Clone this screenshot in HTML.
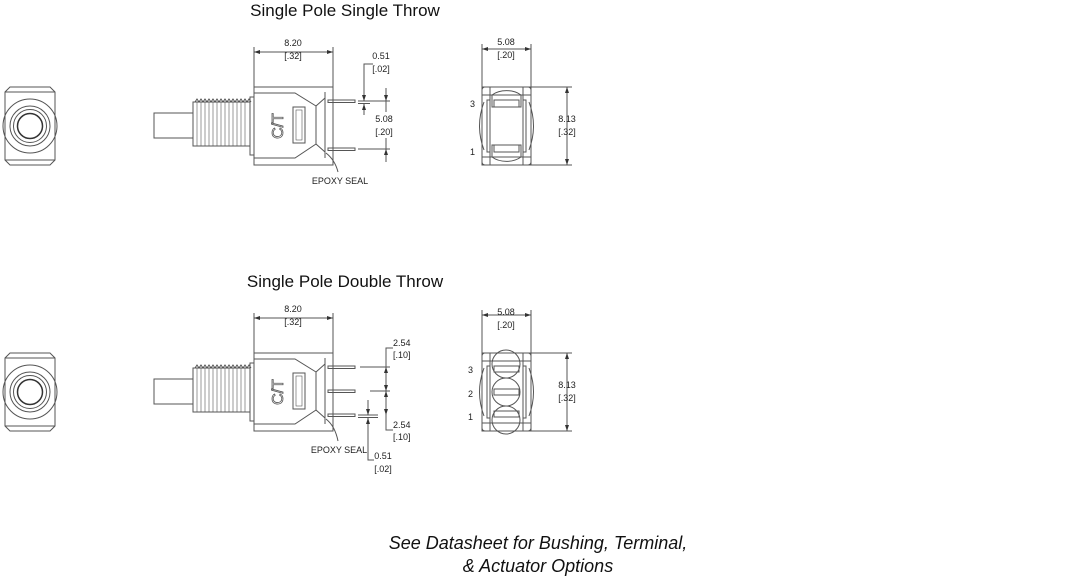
<!DOCTYPE html>
<html><head><style>
html,body{margin:0;padding:0;background:#fff;}
svg{display:block;font-family:"Liberation Sans",sans-serif;}
.t{font-size:9px;fill:#222;font-family:"Liberation Sans",Arial,sans-serif;}
</style></head><body>
<svg width="1080" height="578" viewBox="0 0 1080 578" xmlns="http://www.w3.org/2000/svg">
<defs>
<marker id="ar" markerWidth="6" markerHeight="6" refX="6" refY="3" orient="auto-start-reverse" markerUnits="userSpaceOnUse"><path d="M0,1 L6,3 L0,5 z" fill="#333"/></marker>
<g id="front" fill="none" stroke="#555" stroke-width="1">
  <path d="M10,87 H50 L55,92 V160 L50,165 H10 L5,160 V92 Z"/>
  <line x1="5" y1="92" x2="55" y2="92"/><line x1="5" y1="160" x2="55" y2="160"/>
  <circle cx="30" cy="126" r="27"/>
  <circle cx="30" cy="126" r="20"/>
  <circle cx="30" cy="126" r="16.5"/>
  <circle cx="30" cy="126" r="12.5" stroke="#333" stroke-width="1.5"/>
</g>
<g id="side" fill="none" stroke="#555" stroke-width="1">
  <rect x="154" y="113" width="39" height="25"/>
  <rect x="193" y="102" width="57" height="44"/>
  <path d="M195,102 l2,-3 l2,3 l2,-3 l2,3 l2,-3 l2,3 l2,-3 l2,3 l2,-3 l2,3 l2,-3 l2,3 l2,-3 l2,3 l2,-3 l2,3 l2,-3 l2,3 l2,-3 l2,3 l2,-3 l2,3 l2,-3 l2,3 l2,-3 l2,3 l2,-3 l2,3"/>
  <path d="M197,102 V146 M201,102 V146 M205,102 V146 M209,102 V146 M213,102 V146 M217,102 V146 M221,102 V146 M225,102 V146 M229,102 V146 M233,102 V146 M237,102 V146 M241,102 V146 M245,102 V146" stroke-width="0.6"/>
  <rect x="250" y="97" width="4" height="58"/>
  <rect x="254" y="87" width="79" height="78"/>
  <path d="M254,93 H295 L316,106 V144 L295,158 H254"/>
  <path d="M316,106 L325,98 M316,144 L325,152"/>
  <path d="M325,92 V158"/>
  <rect x="293" y="107" width="12" height="36"/>
  <rect x="296" y="110" width="6" height="30" stroke-width="0.6"/>
  <text x="0" y="0" transform="translate(279,126) rotate(-90)" text-anchor="middle" dominant-baseline="middle" font-size="16" fill="none" stroke="#555" stroke-width="0.8" font-family="Liberation Sans">C/T</text>
  <line x1="254" y1="47" x2="254" y2="87"/><line x1="333" y1="47" x2="333" y2="87"/>
  <line x1="254" y1="52" x2="333" y2="52" marker-start="url(#ar)" marker-end="url(#ar)"/>
</g>
<g id="bottom" fill="none" stroke="#555" stroke-width="1">
  <rect x="482" y="87" width="49" height="78"/>
  <rect x="482" y="87" width="49" height="78" rx="3"/>
  <path d="M482,95 H531 M482,157 H531 M490,87 V165 M523,87 V165"/>
  <rect x="487" y="100" width="3" height="52"/>
  <rect x="523" y="100" width="3" height="52"/>
  <path d="M484,102 Q475,126 484,150 M529,102 Q538,126 529,150"/>
  <line x1="482" y1="44" x2="482" y2="87"/><line x1="531" y1="44" x2="531" y2="87"/>
  <line x1="482" y1="49" x2="531" y2="49" marker-start="url(#ar)" marker-end="url(#ar)"/>
  <line x1="531" y1="87" x2="572" y2="87"/><line x1="531" y1="165" x2="572" y2="165"/>
  <line x1="567" y1="87" x2="567" y2="165" marker-start="url(#ar)" marker-end="url(#ar)"/>
</g>
</defs>

<!-- SPST -->
<text x="345" y="16" text-anchor="middle" font-size="17" fill="#111" font-family="Liberation Sans">Single Pole Single Throw</text>
<use href="#front"/>
<use href="#side"/>
<text class="t" x="293" y="46" text-anchor="middle">8.20</text>
<text class="t" x="293" y="59" text-anchor="middle">[.32]</text>
<g fill="none" stroke="#555" stroke-width="1">
  <rect x="328" y="100" width="27" height="2.5"/>
  <rect x="328" y="148" width="27" height="2.5"/>
  <line x1="358" y1="101" x2="390" y2="101"/><line x1="358" y1="103.5" x2="370" y2="103.5"/>
  <line x1="358" y1="149" x2="390" y2="149"/>
  <line x1="386" y1="88" x2="386" y2="101" marker-end="url(#ar)"/>
  <line x1="386" y1="149" x2="386" y2="162" marker-start="url(#ar)"/>
  <line x1="386" y1="101" x2="386" y2="112"/>
  <line x1="386" y1="138" x2="386" y2="149"/>
  <path d="M373,64 H364 V101" /><line x1="364" y1="95" x2="364" y2="101" marker-end="url(#ar)"/>
  <line x1="364" y1="115" x2="364" y2="104" marker-end="url(#ar)"/>
  <path d="M326,153 Q335,160 338,172"/>
</g>
<text class="t" x="381" y="59" text-anchor="middle">0.51</text>
<text class="t" x="381" y="72" text-anchor="middle">[.02]</text>
<text class="t" x="384" y="122" text-anchor="middle">5.08</text>
<text class="t" x="384" y="135" text-anchor="middle">[.20]</text>
<text class="t" x="340" y="184" text-anchor="middle">EPOXY SEAL</text>
<use href="#bottom"/>
<g fill="none" stroke="#555" stroke-width="1">
  <path d="M492,95 A20,14 0 0 1 521,95 L521,107 L492,107 Z"/>
  <rect x="494" y="100" width="25" height="7"/>
  <path d="M492,157 A20,14 0 0 0 521,157 L521,145 L492,145 Z"/>
  <rect x="494" y="145" width="25" height="7"/>
</g>
<text class="t" x="506" y="45" text-anchor="middle">5.08</text>
<text class="t" x="506" y="58" text-anchor="middle">[.20]</text>
<text class="t" x="470" y="107">3</text>
<text class="t" x="470" y="155">1</text>
<text class="t" x="567" y="122" text-anchor="middle">8.13</text>
<text class="t" x="567" y="135" text-anchor="middle">[.32]</text>

<!-- SPDT -->
<text x="345" y="287" text-anchor="middle" font-size="17" fill="#111" font-family="Liberation Sans">Single Pole Double Throw</text>
<use href="#front" transform="translate(0,266)"/>
<use href="#side" transform="translate(0,266)"/>
<text class="t" x="293" y="312" text-anchor="middle">8.20</text>
<text class="t" x="293" y="325" text-anchor="middle">[.32]</text>
<g fill="none" stroke="#555" stroke-width="1">
  <rect x="328" y="366" width="27" height="2.5"/>
  <rect x="328" y="390" width="27" height="2.5"/>
  <rect x="328" y="414" width="27" height="2.5"/>
  <line x1="360" y1="367" x2="390" y2="367"/>
  <line x1="370" y1="391" x2="390" y2="391"/>
  <line x1="358" y1="415" x2="378" y2="415"/><line x1="358" y1="417.5" x2="378" y2="417.5"/>
  <path d="M393,348 H386 V430 H393"/>
  <line x1="386" y1="380" x2="386" y2="367" marker-end="url(#ar)"/>
  <line x1="386" y1="380" x2="386" y2="391" marker-end="url(#ar)"/>
  <line x1="386" y1="403" x2="386" y2="391" marker-end="url(#ar)"/>
  <line x1="386" y1="403" x2="386" y2="415" marker-end="url(#ar)"/>
  <line x1="368" y1="400" x2="368" y2="415" marker-end="url(#ar)"/>
  <path d="M368,418 V460 H374"/><line x1="368" y1="428" x2="368" y2="418" marker-end="url(#ar)"/>
  <path d="M326,419 Q335,426 338,441"/>
</g>
<text class="t" x="393" y="346">2.54</text>
<text class="t" x="393" y="358">[.10]</text>
<text class="t" x="393" y="428">2.54</text>
<text class="t" x="393" y="440">[.10]</text>
<text class="t" x="339" y="453" text-anchor="middle">EPOXY SEAL</text>
<text class="t" x="383" y="459" text-anchor="middle">0.51</text>
<text class="t" x="383" y="472" text-anchor="middle">[.02]</text>
<use href="#bottom" transform="translate(0,266)"/>
<g fill="none" stroke="#555" stroke-width="1">
  <circle cx="506" cy="364" r="14"/><rect x="494" y="366" width="25" height="6"/>
  <circle cx="506" cy="392" r="14"/><rect x="494" y="389" width="25" height="6"/>
  <circle cx="506" cy="420" r="14"/><rect x="494" y="411" width="25" height="6"/>
</g>
<text class="t" x="506" y="315" text-anchor="middle">5.08</text>
<text class="t" x="506" y="328" text-anchor="middle">[.20]</text>
<text class="t" x="468" y="373">3</text>
<text class="t" x="468" y="397">2</text>
<text class="t" x="468" y="420">1</text>
<text class="t" x="567" y="388" text-anchor="middle">8.13</text>
<text class="t" x="567" y="401" text-anchor="middle">[.32]</text>

<text x="538" y="549" text-anchor="middle" font-size="18" font-style="italic" fill="#111" font-family="Liberation Sans">See Datasheet for Bushing, Terminal,</text>
<text x="538" y="572" text-anchor="middle" font-size="18" font-style="italic" fill="#111" font-family="Liberation Sans">&amp; Actuator Options</text>
</svg>
</body></html>
